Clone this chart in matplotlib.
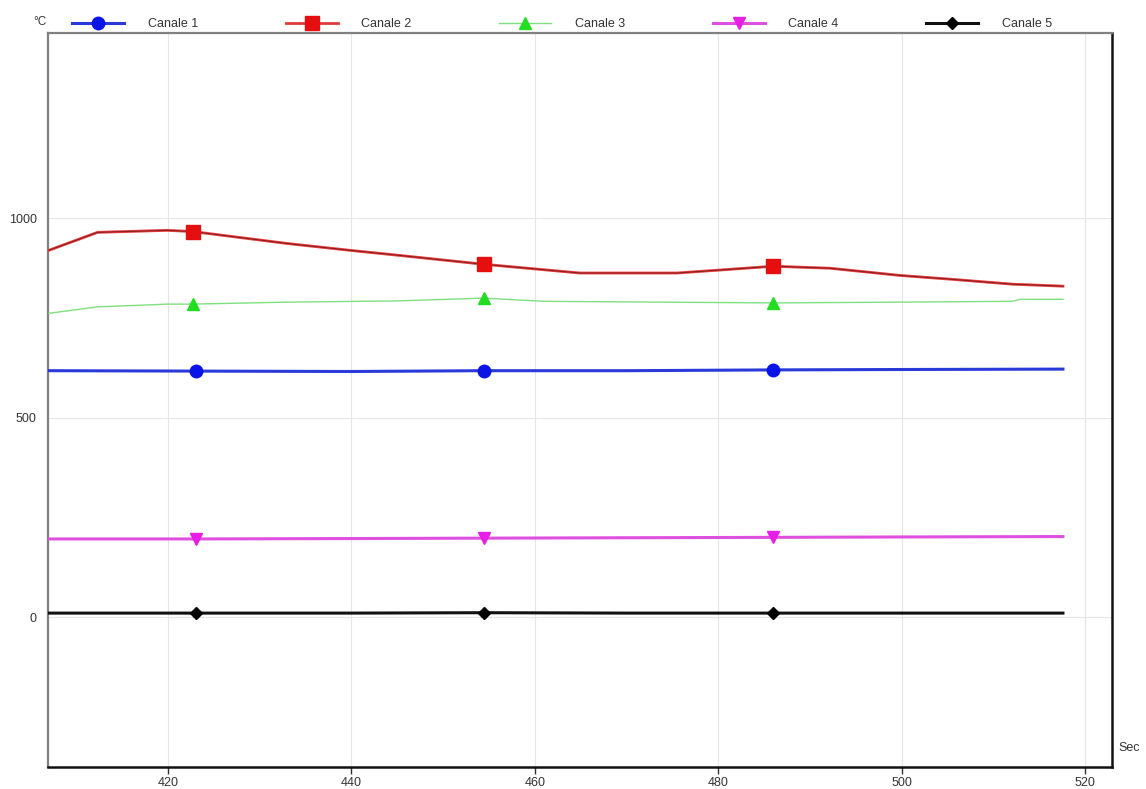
import matplotlib
matplotlib.use("Agg")
import matplotlib.pyplot as plt
from matplotlib.lines import Line2D

plt.rcParams['font.family'] = ['Liberation Sans', 'DejaVu Sans']

# time axis (seconds) for each channel
t_c1 = [407.0, 423.0, 440.0, 454.4, 470.0, 486.0, 500.0, 517.6]
v_c1 = [618, 617, 616, 618, 618, 620, 621, 622]

t_c2 = [407.0, 412.3, 419.9, 422.7, 433.0, 439.8, 445.3, 454.4, 464.9,
        475.5, 479.9, 486.0, 492.2, 499.8, 505.6, 512.1, 517.6]
v_c2 = [920, 965, 970, 967, 937, 920, 907, 885, 863,
        863, 870, 880, 875, 857, 847, 835, 830]

t_c3 = [407.0, 412.3, 420.0, 422.7, 433.0, 445.0, 454.4, 461.0, 486.0,
        500.0, 512.0, 513.0, 517.6]
v_c3 = [762, 778, 785, 785, 790, 793, 800, 792, 788, 790, 792, 797, 797]

t_c4 = [407.0, 423.0, 440.0, 454.4, 470.0, 486.0, 500.0, 517.6]
v_c4 = [196, 196, 197, 198, 199, 200, 201, 202]

t_c5 = [407.0, 423.0, 440.0, 454.4, 470.0, 486.0, 500.0, 517.6]
v_c5 = [10, 10, 10, 11, 10, 10, 10, 10]

# sample times where the markers are shown
marker_times = [422.7, 454.4, 486.0]

labels = ["Canale 1", "Canale 2", "Canale 3", "Canale 4", "Canale 5"]
x_ticks = [420, 440, 460, 480, 500, 520]
y_ticks = [0, 500, 1000]

fig = plt.figure(figsize=(11.46, 7.89), dpi=100)
W, H = 1146, 789
ax = fig.add_axes([48 / W, 1 - 767 / H, (1112 - 48) / W, (767 - 33) / H])

styles = [
    dict(color='#2a3ad8', lw=2.2, marker='o', ms=9, mfc='#0a14e6', mec='#0a14e6'),
    dict(color='#e23a3a', lw=2.0, marker='s', ms=10, mfc='#e60f0f', mec='#e60f0f'),
    dict(color='#7ee07e', lw=1.0, marker='^', ms=8, mfc='#22dd22', mec='#22dd22'),
    dict(color='#e050e0', lw=2.2, marker='v', ms=9, mfc='#e61ee6', mec='#e61ee6'),
    dict(color='#111111', lw=2.2, marker='D', ms=6, mfc='#000000', mec='#000000'),
]
series = [(t_c1, v_c1), (t_c2, v_c2), (t_c3, v_c3), (t_c4, v_c4), (t_c5, v_c5)]

handles = []
for k, ((t, v), st, lab) in enumerate(zip(series, styles, labels)):
    idx = [min(range(len(t)), key=lambda i: abs(t[i] - m)) for m in marker_times]
    ax.plot(t, v, color=st['color'], lw=st['lw'], zorder=3)
    if k == 1:
        # dark core drawn along the red trace
        ax.plot(t, v, color='#6a1515', lw=0.5, zorder=3.1)
    ax.plot([t[i] for i in idx], [v[i] for i in idx], ls='none', marker=st['marker'],
            ms=st['ms'], mfc=st['mfc'], mec=st['mec'], zorder=4)
    handles.append(Line2D([], [], color=st['color'], lw=st['lw'], marker=st['marker'],
                          ms=st['ms'], mfc=st['mfc'], mec=st['mec'], label=lab))

ax.set_xlim(406.9, 522.95)
ax.set_ylim(-376, 1465)
ax.set_xticks(x_ticks)
ax.set_yticks(y_ticks)
ax.grid(True, color='#e6e6e6', lw=0.8, zorder=0)
ax.tick_params(axis='x', direction='out', length=5, width=1, labelsize=9, pad=2,
               colors='#333333')
ax.tick_params(axis='y', length=0, labelsize=9, pad=8, colors='#333333')

for side in ['bottom', 'right']:
    ax.spines[side].set_color('#111111')
    ax.spines[side].set_linewidth(1.8)
for side in ['top', 'left']:
    ax.spines[side].set_color('#808080')
    ax.spines[side].set_linewidth(1.6)

leg = fig.legend(handles=handles, loc='center left', ncol=5, frameon=False,
                 bbox_to_anchor=(72 / W, 1 - 24 / H), fontsize=9,
                 handlelength=4.15, handletextpad=1.9, columnspacing=7.02,
                 borderaxespad=0, borderpad=0)
for txt in leg.get_texts():
    txt.set_color('#333333')

fig.text(46 / W, 1 - 22 / H, "°C", ha='right', va='center', fontsize=8.5, color='#333333')
fig.text(1118 / W, 1 - 748 / H, "Sec", ha='left', va='center', fontsize=9, color='#333333')

fig.savefig("out.png", dpi=100)
